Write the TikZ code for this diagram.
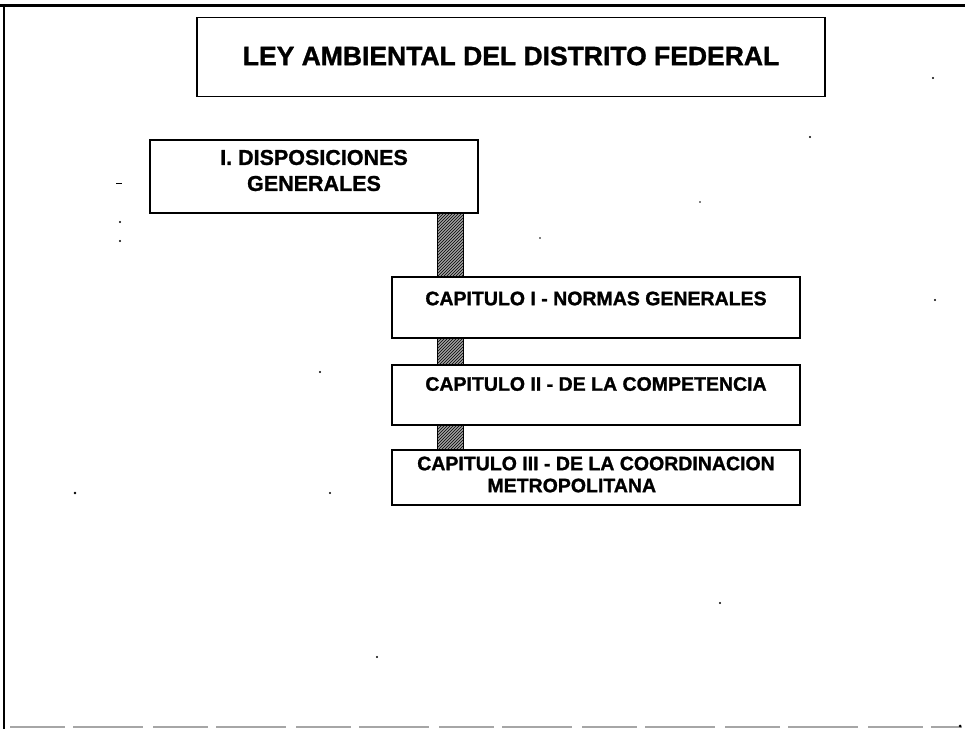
\documentclass[tikz,border=0pt]{standalone}
\usepackage{fontspec}
\setmainfont{Liberation Sans}[BoldFeatures={FakeBold=1.2}]
\usetikzlibrary{patterns}
\tikzset{
  boxnode/.style={draw=black, line width=1.4pt, fill=white, inner sep=0pt, align=center, font=\bfseries},
  barstyle/.style={draw=black, line width=0.8pt, fill=gray!75, postaction={pattern=north east lines, pattern color=black}},
  speck/.style={fill=black}
}
\begin{document}
\begin{tikzpicture}[x=1pt,y=-1pt]
\useasboundingbox (0,0) rectangle (965,729);
% page frame
\draw[line width=3pt] (0,5) -- (965,5);
\draw[line width=2.4pt] (4,5) -- (4,729);
\draw[gray!70, line width=1.6pt, dash pattern=on 55pt off 8pt on 70pt off 10pt] (10,727) -- (962,727);
% boxes
\node[boxnode, minimum width=628pt, minimum height=79pt] (title) at (511,57) {};
\node[font=\bfseries\fontsize{26.5}{28}\selectfont, inner sep=0pt] (titletext) at ([yshift=1pt]title.center) {LEY AMBIENTAL DEL DISTRITO FEDERAL};
\node[boxnode, minimum width=328pt, minimum height=73pt] (b1) at (314,176.5) {};
\node[font=\bfseries\fontsize{21.5}{26}\selectfont, align=center, inner sep=0pt] (b1text) at ([yshift=6pt]b1.center) {I. DISPOSICIONES\\GENERALES};
\node[boxnode, minimum width=408pt, minimum height=61pt] (c1) at (596,307.5) {};
\node[font=\bfseries\fontsize{19.5}{22}\selectfont, inner sep=0pt] (c1text) at ([yshift=9pt]c1.center) {CAPITULO I - NORMAS GENERALES};
\node[boxnode, minimum width=408pt, minimum height=60pt] (c2) at (596,395) {};
\node[font=\bfseries\fontsize{19.5}{22}\selectfont, inner sep=0pt] (c2text) at ([yshift=11pt]c2.center) {CAPITULO II - DE LA COMPETENCIA};
\node[boxnode, minimum width=408pt, minimum height=55pt] (c3) at (596,477.5) {};
\node[font=\bfseries\fontsize{19.5}{22}\selectfont, align=left, inner sep=0pt] (c3text) at ([yshift=3pt]c3.center) {CAPITULO III - DE LA COORDINACION\\\hspace*{3.6em}METROPOLITANA};
% connector bars
\coordinate (bl) at (437,0);
\coordinate (br) at (463,0);
\draw[barstyle] (bl |- b1.south) rectangle (br |- c1.north);
\draw[barstyle] (bl |- c1.south) rectangle (br |- c2.north);
\draw[barstyle] (bl |- c2.south) rectangle (br |- c3.north);
% scan specks
\fill[speck] (116,182.5) rectangle (122,184);
\fill[speck] (120,222) circle (1.1);
\fill[speck] (120,241) circle (1.1);
\fill[speck] (75,493) circle (1.3);
\fill[speck] (330,493) circle (1.1);
\fill[speck] (320,372) circle (1.1);
\fill[speck] (377,657) circle (1.1);
\fill[speck] (720,603) circle (1.1);
\fill[speck] (933,78) circle (1.1);
\fill[speck] (810,137) circle (1.1);
\fill[speck] (700,202) circle (0.9);
\fill[speck] (540,238) circle (0.9);
\fill[speck] (935,300) circle (1.1);
\fill[speck] (960,726) circle (1.5);
\end{tikzpicture}
\end{document}
